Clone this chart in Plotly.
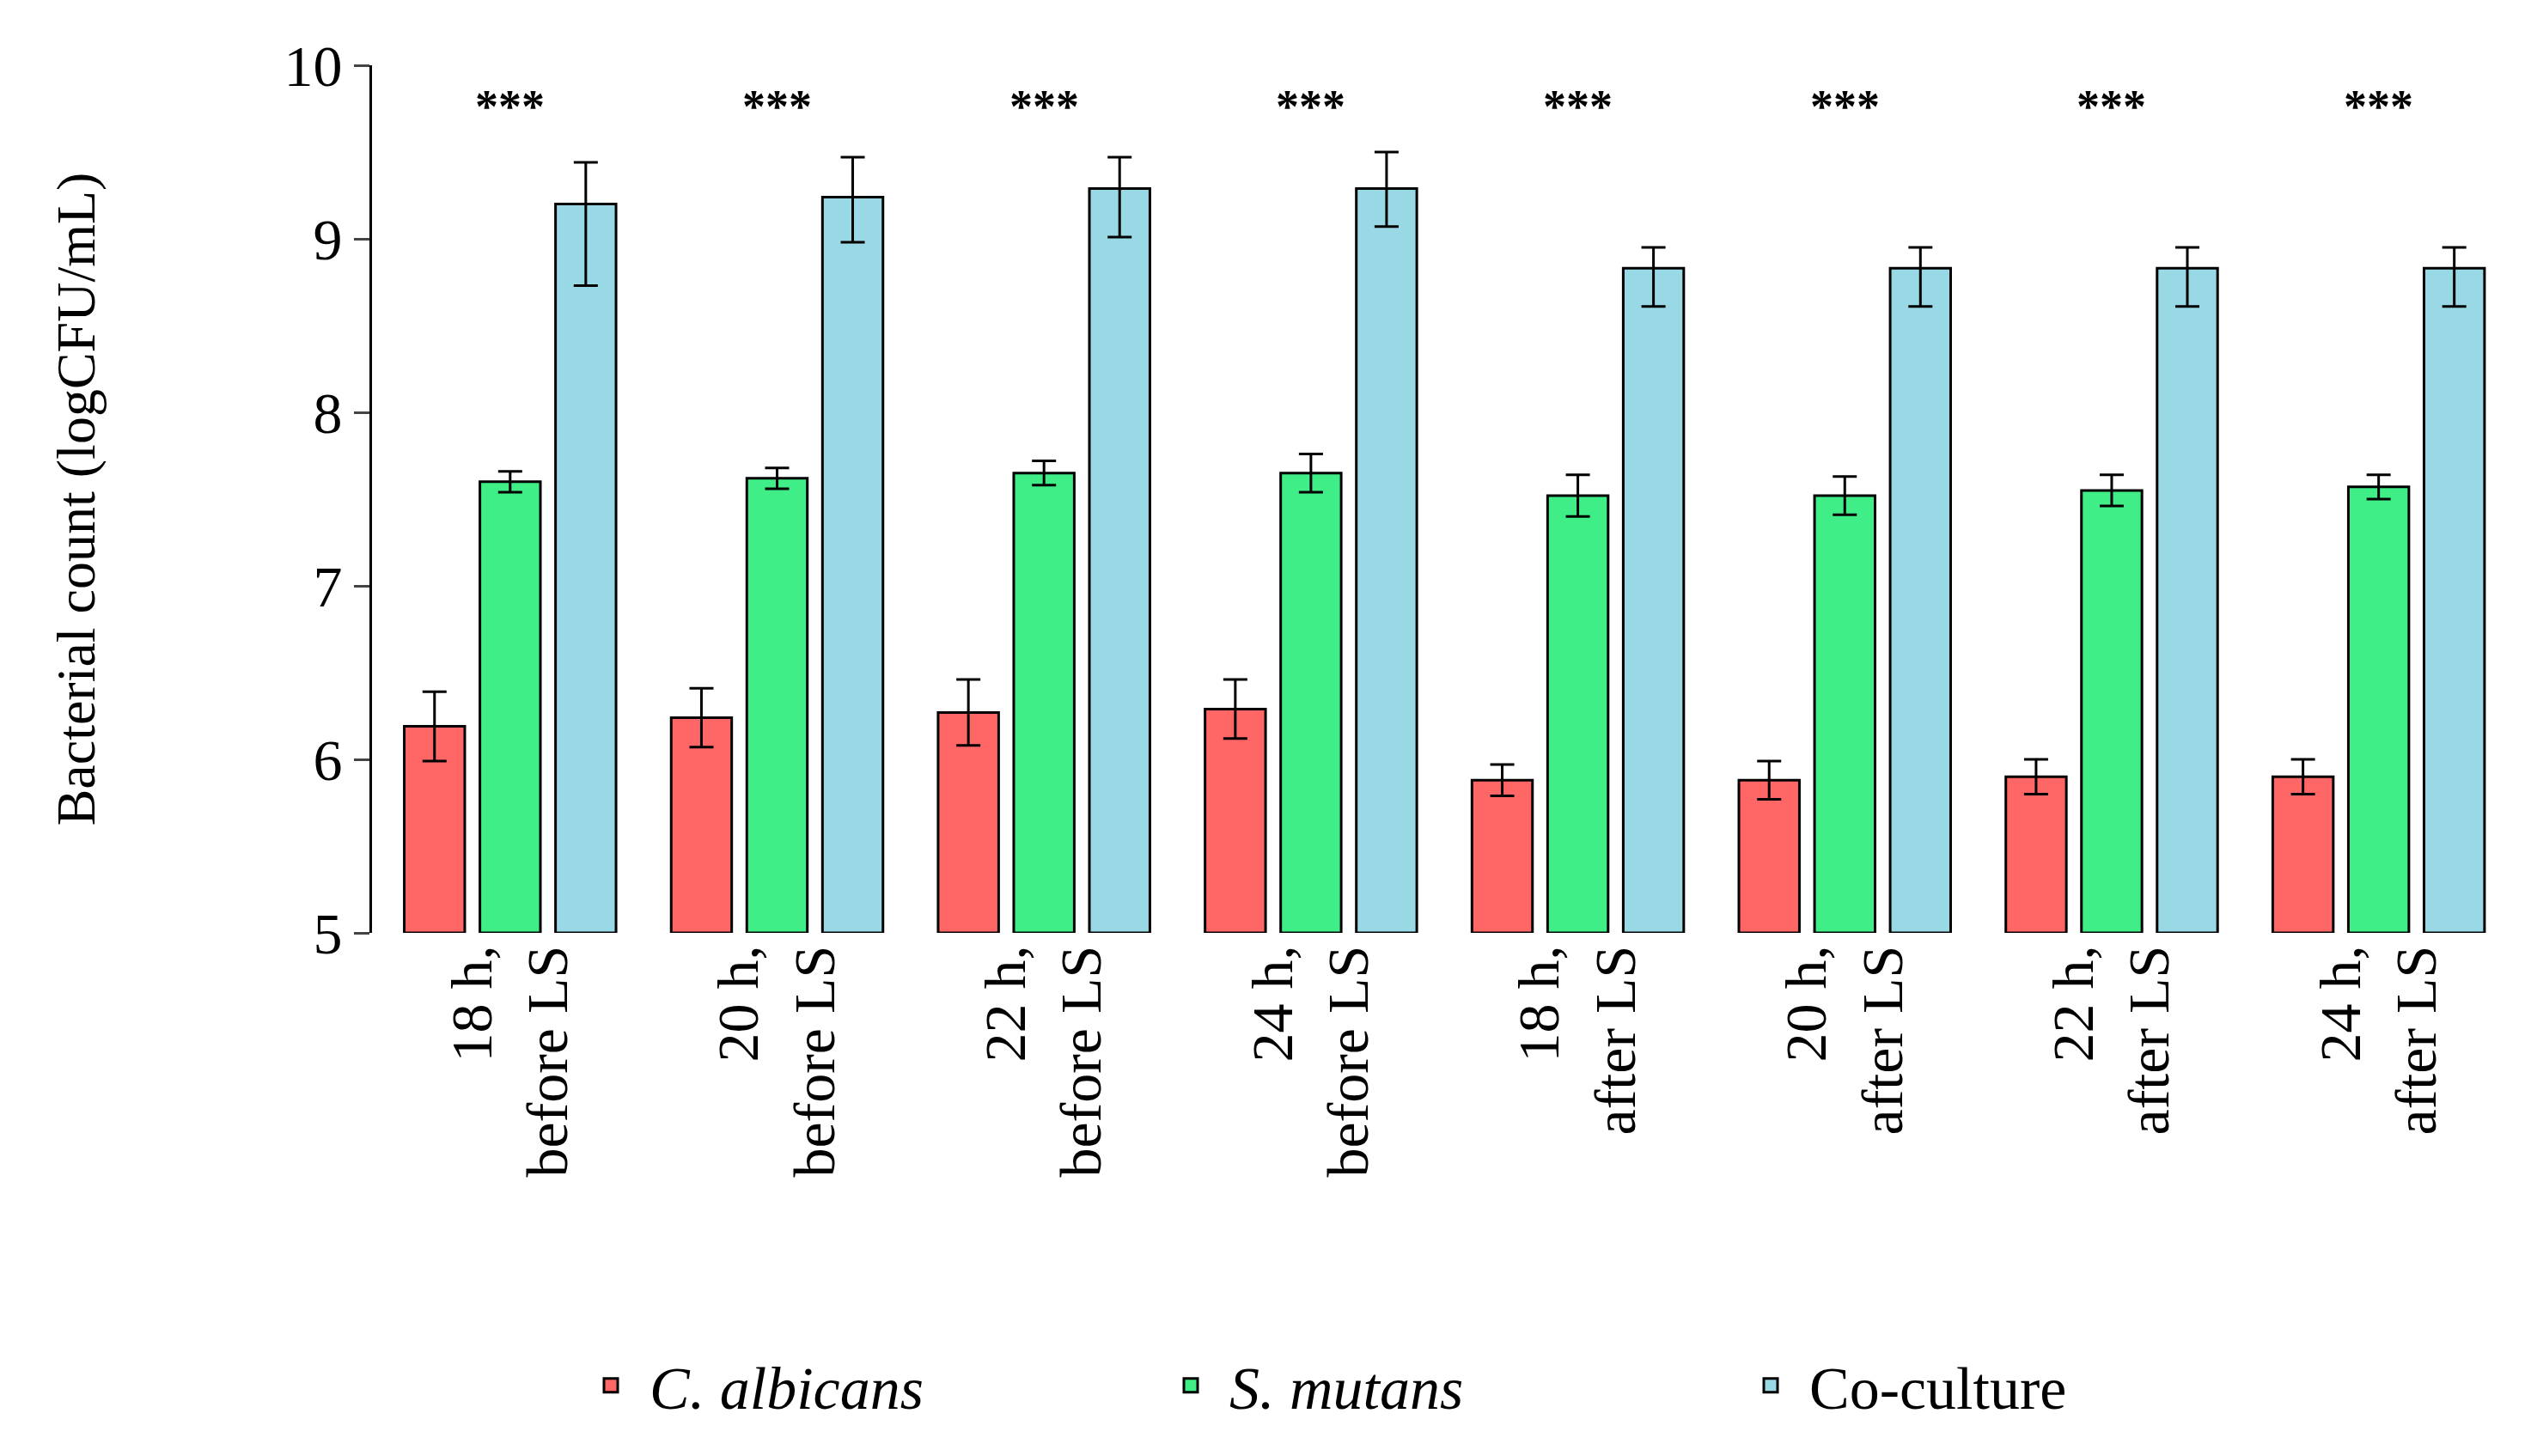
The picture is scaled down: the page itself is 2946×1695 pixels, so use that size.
import plotly.graph_objects as go

# Datos
categorias = ["18 h,<br>before LS", "20 h,<br>before LS", "22 h,<br>before LS", "24 h,<br>before LS",
              "18 h,<br>after LS", "20 h,<br>after LS", "22 h,<br>after LS", "24 h,<br>after LS"]

c_albicans = [6.19, 6.24, 6.27, 6.29, 5.88, 5.88, 5.90, 5.90]
c_albicans_err = [0.20, 0.17, 0.19, 0.17, 0.09, 0.11, 0.10, 0.10]

s_mutans = [7.60, 7.62, 7.65, 7.65, 7.52, 7.52, 7.55, 7.57]
s_mutans_err = [0.06, 0.06, 0.07, 0.11, 0.12, 0.11, 0.09, 0.07]

coculture = [9.20, 9.24, 9.29, 9.29, 8.83, 8.83, 8.83, 8.83]
coculture_up = [0.24, 0.23, 0.18, 0.21, 0.12, 0.12, 0.12, 0.12]
coculture_down = [0.47, 0.26, 0.28, 0.22, 0.22, 0.22, 0.22, 0.22]

estrellas = ["<b>***</b>"] * 8

fuente = "Liberation Serif"

fig = go.Figure()

series = [
    ("<i>C. albicans</i>", c_albicans, dict(type="data", array=c_albicans_err), "#FF6666"),
    ("<i>S. mutans</i>", s_mutans, dict(type="data", array=s_mutans_err), "#40EE88"),
    ("Co-culture", coculture, dict(type="data", array=coculture_up, arrayminus=coculture_down), "#99D9E6"),
]

for nombre, valores, err, color in series:
    err.update(color="black", thickness=3, width=14)
    fig.add_trace(go.Bar(
        x=categorias, y=[v - 5 for v in valores], base=5, name=nombre,
        marker=dict(color=color, line=dict(color="black", width=3)),
        error_y=err, showlegend=False,
    ))

# Entradas de leyenda con cuadros grandes
for nombre, valores, err, color in series:
    fig.add_trace(go.Scatter(
        x=[categorias[0]], y=[None], mode="markers", name=nombre,
        marker=dict(symbol="square", size=58, color=color, line=dict(color="black", width=3)),
    ))

for cat, s in zip(categorias, estrellas):
    fig.add_annotation(x=cat, y=9.76, text=s, showarrow=False,
                       font=dict(family=fuente, size=54, color="black"))

fig.update_layout(
    width=2946, height=1695,
    barmode="group", bargap=0.15, bargroupgap=0.2,
    plot_bgcolor="white", paper_bgcolor="white",
    font=dict(family=fuente, size=68, color="black"),
    margin=dict(l=425, r=30, t=68, b=617),
    legend=dict(orientation="h", x=0.5, xanchor="center", y=-0.47, yanchor="top",
                font=dict(size=70), itemwidth=80, entrywidth=580),
    showlegend=True,
)

fig.update_yaxes(
    range=[5, 10], dtick=1, showgrid=False, zeroline=False,
    showline=True, linecolor="black", linewidth=3,
    ticks="outside", ticklen=18, tickwidth=3,
    title=dict(text="Bacterial count (logCFU/mL)", font=dict(size=64), standoff=200),
)
fig.update_xaxes(
    showline=False, ticks="", tickangle=-90, showgrid=False,
)

fig.write_html("out.html")
